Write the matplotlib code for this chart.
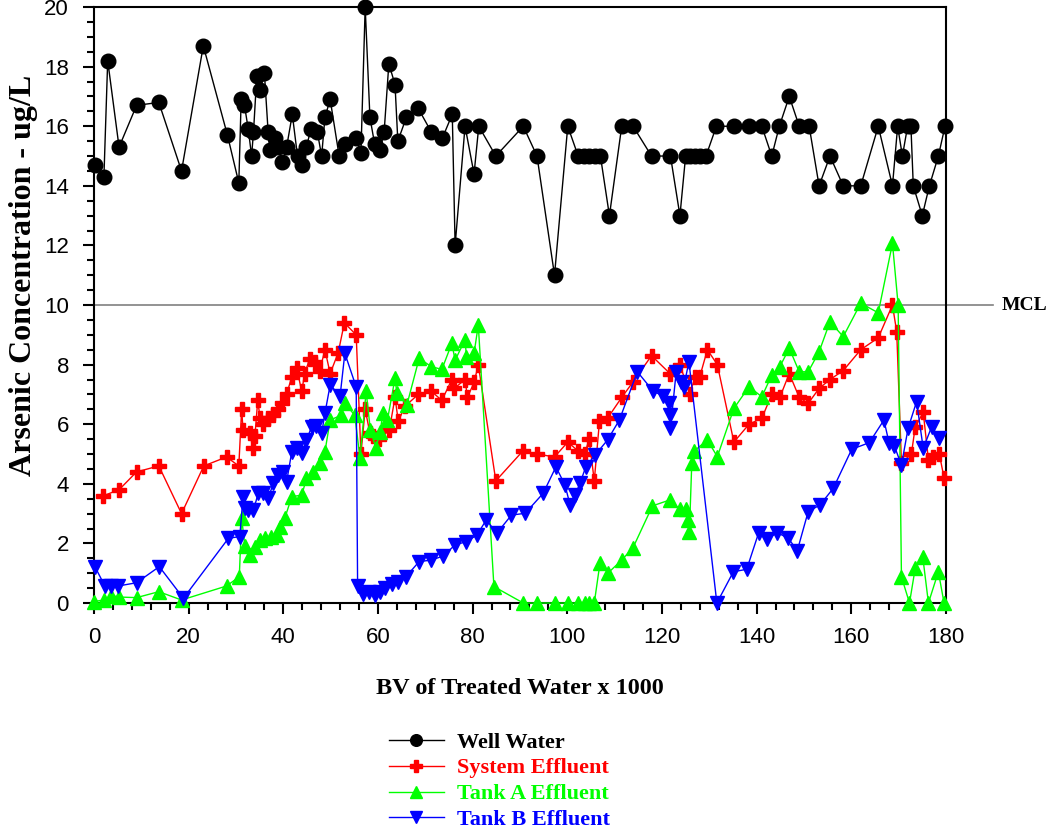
import numpy as np
import matplotlib
matplotlib.use('Agg')
import matplotlib.pyplot as plt

# data (x = BV x 1000, y = ug/L)
well_x = [0.2, 2.1, 2.9, 5.3, 9.0, 13.7, 18.5, 23.1, 28.2, 30.6,
          31.1, 31.8, 32.6, 33.3, 33.7, 34.4, 35.1, 36.0, 36.8, 37.2,
          38.2, 38.9, 39.8, 40.7, 41.9, 43.0, 43.9, 44.9, 45.8, 47.2,
          48.1, 48.8, 49.9, 51.8, 53.0, 55.4, 56.4, 57.3, 58.3, 59.3,
          60.4, 61.3, 62.3, 63.6, 64.2, 66.0, 68.5, 71.3, 73.6, 75.7,
          76.3, 78.4, 80.3, 81.3, 84.9, 90.7, 93.6, 97.3, 100.1, 102.3,
          103.5, 104.6, 105.8, 107.0, 108.9, 111.5, 113.9, 117.8, 121.8, 123.8,
          125.0, 126.0, 127.0, 128.0, 129.3, 131.5, 135.2, 138.4, 141.1, 143.2,
          144.8, 146.9, 149.0, 151.1, 153.2, 155.5, 158.3, 162.0, 165.7, 168.7,
          169.8, 170.8, 171.9, 172.6, 173.1, 175.0, 176.5, 178.4, 179.8]
well_y = [14.7, 14.3, 18.2, 15.3, 16.7, 16.8, 14.5, 18.7, 15.7, 14.1,
          16.9, 16.7, 15.9, 15.0, 15.8, 17.7, 17.2, 17.8, 15.8, 15.2,
          15.6, 15.3, 14.8, 15.3, 16.4, 15.0, 14.7, 15.3, 15.9, 15.8,
          15.0, 16.3, 16.9, 15.0, 15.4, 15.6, 15.1, 20.0, 16.3, 15.4,
          15.2, 15.8, 18.1, 17.4, 15.5, 16.3, 16.6, 15.8, 15.6, 16.4,
          12.0, 16.0, 14.4, 16.0, 15.0, 16.0, 15.0, 11.0, 16.0, 15.0,
          15.0, 15.0, 15.0, 15.0, 13.0, 16.0, 16.0, 15.0, 15.0, 13.0,
          15.0, 15.0, 15.0, 15.0, 15.0, 16.0, 16.0, 16.0, 16.0, 15.0,
          16.0, 17.0, 16.0, 16.0, 14.0, 15.0, 14.0, 14.0, 16.0, 14.0,
          16.0, 15.0, 16.0, 16.0, 14.0, 13.0, 14.0, 15.0, 16.0]

sys_x = [2.0, 5.3, 9.0, 13.7, 18.5, 23.2, 28.0, 30.6, 31.2, 31.5,
         33.0, 33.5, 34.0, 34.6, 35.1, 35.8, 36.8, 37.9, 38.9, 39.8,
         40.7, 41.8, 42.8, 43.9, 44.5, 45.6, 46.7, 47.7, 48.8, 49.9,
         51.6, 52.9, 55.4, 56.4, 57.3, 58.3, 59.0, 60.3, 62.4, 63.6,
         64.3, 65.7, 68.5, 71.3, 73.5, 75.6, 76.1, 78.4, 78.9, 80.3,
         81.2, 84.9, 90.6, 93.7, 97.3, 100.1, 102.3, 103.7, 104.6, 105.7,
         106.8, 108.5, 111.5, 113.8, 117.8, 121.7, 123.8, 125.9, 127.0, 128.0,
         129.6, 131.7, 135.2, 138.4, 141.1, 143.2, 144.9, 146.9, 149.0, 150.9,
         153.2, 155.5, 158.3, 162.0, 165.7, 168.7, 169.6, 170.6, 172.7, 173.5,
         175.2, 176.3, 177.3, 178.6, 179.6]
sys_y = [3.6, 3.8, 4.4, 4.6, 3.0, 4.6, 4.9, 4.6, 6.5, 5.8,
         5.7, 5.2, 5.6, 6.8, 6.2, 6.0, 6.2, 6.3, 6.5, 6.7,
         7.0, 7.6, 7.9, 7.1, 7.7, 8.2, 8.1, 7.8, 8.5, 7.7,
         8.4, 9.4, 9.0, 5.0, 6.5, 5.7, 5.6, 5.5, 5.8, 6.9,
         6.1, 6.6, 7.0, 7.1, 6.8, 7.5, 7.2, 7.5, 6.9, 7.4,
         8.0, 4.1, 5.1, 5.0, 4.9, 5.4, 5.1, 5.0, 5.5, 4.1,
         6.1, 6.2, 6.9, 7.4, 8.3, 7.7, 8.0, 7.0, 7.6, 7.6,
         8.5, 8.0, 5.4, 6.0, 6.2, 7.0, 6.9, 7.7, 6.9, 6.7,
         7.2, 7.5, 7.8, 8.5, 8.9, 10.0, 9.1, 4.7, 5.0, 5.9,
         6.4, 4.8, 4.9, 5.0, 4.2]

tank_a_x = [0.0, 2.1, 3.7, 5.3, 9.0, 13.7, 18.5, 28.0, 30.7, 31.2,
            31.9, 33.0, 34.0, 35.1, 36.1, 37.5, 38.6, 39.3, 40.3, 41.8,
            43.9, 44.9, 46.3, 47.7, 48.8, 49.9, 52.2, 53.0, 55.1, 56.2,
            57.5, 58.4, 59.6, 60.4, 61.1, 62.0, 63.6, 64.0, 66.1, 68.7,
            71.3, 73.5, 75.6, 76.3, 78.4, 78.7, 80.3, 81.2, 84.5, 90.7,
            93.7, 97.3, 100.1, 102.3, 103.7, 104.6, 105.7, 106.9, 108.7, 111.5,
            113.9, 118.0, 121.7, 123.8, 125.0, 125.6, 125.8, 126.3, 126.8, 129.6,
            131.7, 135.2, 138.4, 141.1, 143.2, 144.9, 146.9, 149.0, 150.9, 153.2,
            155.5, 158.3, 162.0, 165.7, 168.7, 169.9, 170.6, 172.3, 173.5, 175.1,
            176.3, 178.4, 179.6]
tank_a_y = [0.05, 0.1, 0.25, 0.2, 0.18, 0.38, 0.1, 0.57, 0.88, 2.84,
            1.9, 1.61, 1.89, 2.11, 2.17, 2.22, 2.28, 2.56, 2.84, 3.57,
            3.62, 4.18, 4.41, 4.69, 5.08, 6.14, 6.3, 6.7, 6.3, 4.86,
            7.1, 5.8, 5.19, 5.75, 6.37, 6.14, 7.54, 7.04, 6.64, 8.21,
            7.93, 7.84, 8.71, 8.15, 8.83, 8.26, 8.38, 9.33, 0.55, 0.0,
            0.0, 0.0, 0.0, 0.0, 0.0, 0.0, 0.0, 1.33, 1.02, 1.44,
            1.86, 3.26, 3.46, 3.14, 3.14, 2.79, 2.39, 4.69, 5.1, 5.47,
            4.91, 6.53, 7.26, 6.92, 7.65, 7.93, 8.55, 7.76, 7.76, 8.43,
            9.44, 8.94, 10.06, 9.74, 12.07, 10.0, 0.88, 0.0, 1.16, 1.55,
            0.0, 1.05, 0.0]

tank_b_x = [0.2, 2.3, 3.7, 5.1, 9.0, 13.8, 18.9, 28.4, 30.8, 31.5,
            31.9, 32.6, 33.7, 34.7, 35.8, 36.8, 37.9, 38.9, 40.0, 40.7,
            41.8, 42.8, 43.9, 44.9, 46.0, 47.0, 48.1, 48.8, 49.9, 52.0,
            53.0, 55.4, 55.7, 56.9, 58.2, 59.4, 60.4, 61.5, 62.9, 64.3,
            65.9, 68.7, 71.3, 73.8, 76.3, 78.7, 80.9, 82.9, 85.1, 88.2,
            91.1, 94.9, 97.6, 99.5, 100.6, 101.6, 102.7, 103.9, 105.9, 108.5,
            111.0, 114.8, 118.2, 120.3, 121.4, 121.7, 121.8, 123.0, 124.0, 124.6,
            125.7, 131.6, 135.1, 137.9, 140.4, 142.1, 144.4, 146.7, 148.6, 150.9,
            153.4, 156.2, 160.1, 163.8, 166.9, 168.0, 169.1, 170.6, 172.0, 173.8,
            175.2, 177.0, 178.6]
tank_b_y = [1.22, 0.57, 0.57, 0.57, 0.68, 1.22, 0.16, 2.17, 2.23, 3.57,
            3.18, 3.12, 3.12, 3.68, 3.7, 3.51, 4.02, 4.3, 4.41, 4.07,
            5.08, 5.19, 5.02, 5.47, 5.92, 5.94, 5.69, 6.37, 7.32, 6.95,
            8.38, 7.25, 0.56, 0.3, 0.38, 0.27, 0.38, 0.49, 0.63, 0.71,
            0.88, 1.39, 1.44, 1.58, 1.95, 2.06, 2.28, 2.79, 2.34, 2.95,
            3.01, 3.68, 4.57, 3.96, 3.29, 3.62, 4.02, 4.57, 4.97, 5.47,
            6.14, 7.76, 7.1, 6.95, 6.7, 6.3, 5.86, 7.75, 7.4, 7.25,
            8.1, 0.0, 1.05, 1.13, 2.34, 2.14, 2.36, 2.17, 1.76, 3.07,
            3.29, 3.85, 5.16, 5.38, 6.14, 5.36, 5.27, 4.63, 5.86, 6.76,
            5.19, 5.92, 5.53]

MCL = 10

fig = plt.figure(figsize=(10.5, 8.3), dpi=100)
ax = fig.add_axes([0.0895, 0.2735, 0.8114, 0.718])

serif = {'family': 'Liberation Serif', 'weight': 'bold'}

# MCL line runs a bit past the right edge
ax.axhline(MCL, xmin=0, xmax=1.055, color='#808080', lw=1.2, clip_on=False, zorder=1)
ax.text(1.065, MCL, 'MCL', transform=ax.get_yaxis_transform(),
        va='center', ha='left', fontsize=14, **serif)

series = [
    (well_x, well_y, 'black', 'o', 10.5, 'Well Water'),
    (sys_x, sys_y, '#ff0000', 'P', 10, 'System Effluent'),
    (tank_a_x, tank_a_y, '#00ff00', '^', 10, 'Tank A Effluent'),
    (tank_b_x, tank_b_y, '#0000ff', 'v', 10, 'Tank B Effluent'),
]
handles = []
for x, y, c, m, ms, lab in series:
    h, = ax.plot(x, y, color=c, marker=m, ms=ms, lw=1.0, mec=c, mfc=c,
                 label=lab, clip_on=False, zorder=3)
    handles.append(h)

ax.set_xlim(0, 180)
ax.set_ylim(0, 20)
ax.set_xticks(np.arange(0, 181, 20))
ax.set_xticks(np.arange(0, 181, 4), minor=True)
ax.set_yticks(np.arange(0, 21, 2))
ax.set_yticks(np.arange(0, 20.1, 0.5), minor=True)
ax.tick_params(which='both', direction='out', top=False, right=False, width=1.5)
ax.tick_params(which='major', length=8)
ax.tick_params(which='minor', length=5)
ax.tick_params(axis='x', which='major', pad=9)
ax.tick_params(axis='y', which='major', pad=10)
for lab in ax.get_xticklabels() + ax.get_yticklabels():
    lab.set_family('Liberation Sans')
    lab.set_fontsize(16)
for sp in ax.spines.values():
    sp.set_linewidth(1.5)

ax.set_xlabel('BV of Treated Water x 1000', fontsize=17.5, labelpad=22, **serif)
ax.set_ylabel('Arsenic Concentration - ug/L', fontsize=23, **serif)
ax.yaxis.set_label_coords(-0.066, 0.55)

leg = fig.legend(handles=handles, loc='upper left',
                 bbox_to_anchor=(0.37, 1 - 732 / 830),
                 bbox_transform=fig.transFigure, frameon=False, handlelength=2.5,
                 handletextpad=0.6, labelspacing=0.24, borderaxespad=0,
                 borderpad=0, markerscale=0.8,
                 prop={'family': 'Liberation Serif', 'weight': 'bold', 'size': 16})
for t, h in zip(leg.get_texts(), handles):
    t.set_color(h.get_color())

fig.savefig('out.png', dpi=100)
